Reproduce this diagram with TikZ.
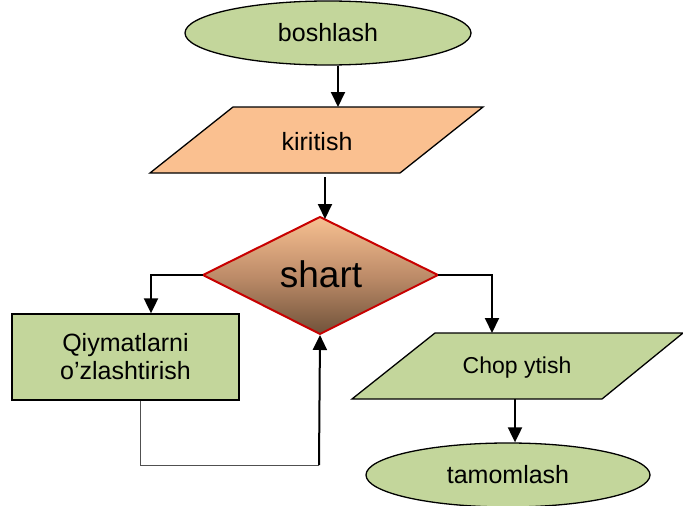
\documentclass[tikz,border=0pt]{standalone}
\usepackage{fontspec}
\setmainfont{Liberation Sans}
\usetikzlibrary{shapes.geometric,arrows.meta}
\definecolor{greenfill}{RGB}{195,214,155}
\definecolor{orangefill}{RGB}{250,192,144}
\definecolor{dtop}{RGB}{247,192,145}
\definecolor{dbot}{RGB}{112,82,58}
\definecolor{dred}{RGB}{200,0,0}
\definecolor{thin}{RGB}{80,80,80}
\tikzset{
  shapeline/.style={draw=black,line width=1.3pt},
  term/.style={shapeline,ellipse,fill=greenfill,inner sep=0pt,font=\fontsize{25}{30}\selectfont},
  procbox/.style={shapeline,rectangle,fill=greenfill,inner sep=0pt,align=center,font=\fontsize{25}{28}\selectfont},
  lbl/.style={inner sep=0pt,font=\fontsize{25}{30}\selectfont},
  arr/.style={line width=2pt,-{Triangle[length=15pt,width=14pt]}},
  thinline/.style={draw=thin,line width=1pt}
}
\begin{document}
\begin{tikzpicture}[x=1pt,y=-1pt]
\useasboundingbox (0,0) rectangle (683,506);
% start
\node[term,minimum width=286pt,minimum height=64pt] (start) at (328,33) {boshlash};
% input parallelogram
\draw[shapeline,fill=orangefill] (233,107) -- (483,107) -- (400,173) -- (150,173) -- cycle;
\node[lbl] (kir) at (317,142) {kiritish};
\coordinate (kirtop) at (338,107);
\coordinate (kirbot) at (325,177);
% diamond
\shadedraw[top color=dtop,bottom color=dbot,middle color={rgb,255:red,190;green,140;blue,105},draw=dred,line width=2pt,line join=miter]
  (320,217) -- (438,275) -- (320,334) -- (203,275) -- cycle;
\coordinate (dtopc) at (325,219);
\coordinate (dleft) at (203,275);
\coordinate (dright) at (438,275);
\coordinate (dbotc) at (320,335);
\node[inner sep=0pt,font=\fontsize{37}{40}\selectfont] (shart) at (321,274) {shart};
% process box
\node[procbox,minimum width=227pt,minimum height=86pt] (proc) at (125.5,357) {Qiymatlarni\\o’zlashtirish};
% output parallelogram
\draw[shapeline,fill=greenfill] (435,333) -- (683,333) -- (602,399) -- (352,399) -- cycle;
\node[lbl,font=\fontsize{23}{28}\selectfont] (chop) at (517,368) {Chop ytish};
\coordinate (choptop) at (492,333);
\coordinate (chopbot) at (515,399);
% end
\node[term,minimum width=284pt,minimum height=64pt] (end) at (508,475) {tamomlash};
% connectors
\draw[arr] (start.south -| kirtop) -- (kirtop);
\draw[arr] (kirbot) -- (dtopc);
\draw[arr] (dleft) -| (proc.north -| 151,0);
\draw[arr] (dright) -| (choptop);
\draw[arr] (chopbot) -- (end.north -| chopbot);
\coordinate (loopa) at (140,465);
\coordinate (loopb) at (319,465);
\draw[thinline] (proc.south -| loopa) -- (loopa) -- (loopb);
\draw[arr] (loopb) -- (dbotc);
\end{tikzpicture}
\end{document}
